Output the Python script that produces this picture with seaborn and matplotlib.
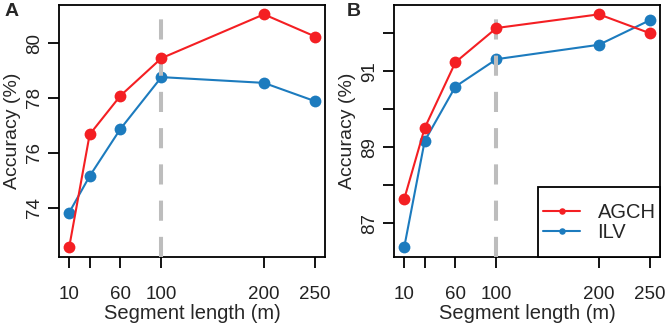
import pandas as pd
import seaborn as sns
import matplotlib.pyplot as plt
from matplotlib.patches import Rectangle

# Data
seg_length = [10, 30, 60, 100, 200, 250]
agch_a = [72.55, 76.67, 78.08, 79.45, 81.05, 80.24]
ilv_a = [73.82, 75.15, 76.87, 78.76, 78.55, 77.88]
agch_b = [87.64, 89.51, 91.24, 92.14, 92.50, 92.00]
ilv_b = [86.37, 89.17, 90.60, 91.32, 91.70, 92.35]

xticks = [10, 30, 60, 100, 200, 250]
xtick_labels = ['10', '', '60', '100', '200', '250']
yticks_a = [74, 76, 78, 80]
yticks_b = [87, 88, 89, 90, 91, 92]
ytick_labels_b = ['87', '', '89', '', '91', '']

palette = {'AGCH': '#F41F23', 'ILV': '#1C7BBE'}

sns.set_style("ticks")
plt.rcParams['font.family'] = ['Liberation Sans', 'DejaVu Sans']


def make_frame(agch, ilv):
    return pd.concat([
        pd.DataFrame({'x': seg_length, 'y': agch, 'method': 'AGCH'}),
        pd.DataFrame({'x': seg_length, 'y': ilv, 'method': 'ILV'}),
    ])


def rlim(v):
    # R style 4% range extension
    lo, hi = min(v), max(v)
    d = (hi - lo) * 0.04
    return lo - d, hi + d


fig = plt.figure(figsize=(6.71, 3.34), dpi=100)
ax_a = fig.add_axes([0.0884, 0.2314, 0.396, 0.7536])
ax_b = fig.add_axes([0.5877, 0.2314, 0.396, 0.7536])

panels = [
    (ax_a, make_frame(agch_a, ilv_a), yticks_a, [str(t) for t in yticks_a], agch_a + ilv_a),
    (ax_b, make_frame(agch_b, ilv_b), yticks_b, ytick_labels_b, agch_b + ilv_b),
]

for ax, df, yt, ytl, allv in panels:
    sns.lineplot(data=df, x='x', y='y', hue='method', palette=palette,
                 marker='o', markersize=8.5, markeredgewidth=0, lw=1.5,
                 ax=ax, legend=(ax is ax_b))
    # ILV below the dashed line, AGCH above
    ax.lines[0].set_zorder(4)
    ax.lines[1].set_zorder(2)
    ax.axvline(100, color='#BDBDBD', lw=2.9, ls=(0, (5, 4)), zorder=3)
    ax.set_xlim(rlim(seg_length))
    ax.set_ylim(rlim(allv))
    ax.set_xticks(xticks)
    ax.set_xticklabels(xtick_labels)
    ax.set_yticks(yt)
    ax.set_yticklabels(ytl, rotation=90, va='center')
    ax.tick_params(axis='both', direction='out', length=8, width=1.3,
                   color='black', labelsize=13.5, labelcolor='#222222')
    ax.tick_params(axis='x', pad=13)
    ax.tick_params(axis='y', pad=4)
    for s in ax.spines.values():
        s.set_visible(True)
        s.set_linewidth(1.3)
        s.set_color('black')
    ax.set_xlabel('Segment length (m)', fontsize=14.5, labelpad=1)
    ax.set_ylabel('Accuracy (%)', fontsize=14)
    ax.yaxis.set_label_coords(-0.143, 0.5)

fig.text(0.006, 0.99, 'A', fontsize=14, fontweight='bold', va='top')
fig.text(0.517, 0.99, 'B', fontsize=14, fontweight='bold', va='top')

# Legend box (R style, anchored to the lower right corner)
ax_b.add_patch(Rectangle((0.541, 0.0), 0.459, 0.278, transform=ax_b.transAxes,
                         facecolor='white', edgecolor='black', lw=1.3,
                         zorder=5, clip_on=False))
leg = ax_b.legend(loc='center left', bbox_to_anchor=(0.56, 0.135),
                  fontsize=14.5, frameon=False, borderaxespad=0, borderpad=0,
                  handlelength=1.85, handletextpad=0.85, labelspacing=0.05,
                  markerscale=0.55)
leg.set_zorder(6)
leg.set_title(None)

plt.savefig('out.png', dpi=100)
